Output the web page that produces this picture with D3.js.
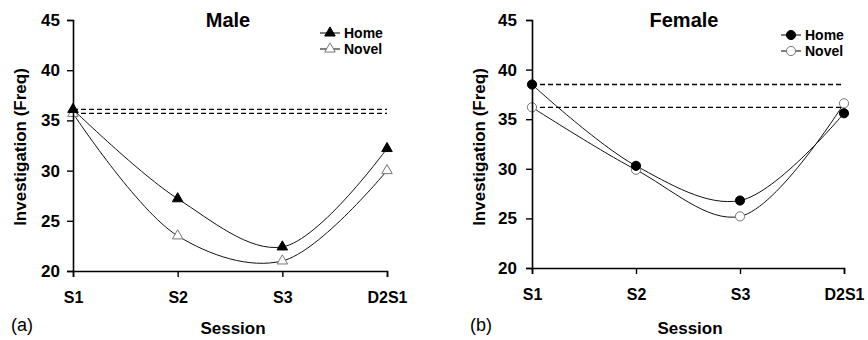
<!DOCTYPE html>
<html>
<head>
<meta charset="utf-8">
<script src="https://cdn.jsdelivr.net/npm/d3@7"></script>
<style>
  body { margin: 0; background: #fff; }
  svg { display: block; font-family: "Liberation Sans", Arial, sans-serif; }
</style>
</head>
<body>
<div id="chart"></div>
<script>
const width = 868;
const height = 340;

// data
const sessions = ['S1', 'S2', 'S3', 'D2S1'];
const yTicks = [20, 25, 30, 35, 40, 45];

const maleHome = [36.1, 27.2, 22.4, 32.2];
const maleNovel = [35.7, 23.5, 21.0, 30.0];
const femaleHome = [38.5, 30.3, 26.8, 35.6];
const femaleNovel = [36.2, 29.9, 25.2, 36.6];

const svg = d3.select('#chart')
    .append('svg')
    .attr('width', width)
    .attr('height', height);

// one panel
function drawPanel(p) {
    const xScale = d3.scalePoint().domain(sessions).range([p.x0, p.x1]);
    const yScale = d3.scaleLinear().domain([20, 45]).range([p.yBottom, p.yTop]);

    const g = svg.append('g');

    // dashed baseline references from S1
    [p.home[0], p.novel[0]].forEach((v) => {
        g.append('line')
            .attr('x1', p.x0).attr('x2', p.x1)
            .attr('y1', yScale(v)).attr('y2', yScale(v))
            .attr('stroke', '#000')
            .attr('stroke-width', 1.3)
            .attr('stroke-dasharray', '5,3');
    });

    const line = d3.line()
        .x((d, i) => xScale(sessions[i]))
        .y((d) => yScale(d))
        .curve(d3.curveCatmullRom.alpha(0.5));

    [p.home, p.novel].forEach((vals) => {
        g.append('path')
            .attr('d', line(vals))
            .attr('fill', 'none')
            .attr('stroke', '#111')
            .attr('stroke-width', 1);
    });

    const symType = p.shape === 'triangle' ? d3.symbolTriangle : d3.symbolCircle;
    const symSize = p.shape === 'triangle' ? 48 : 66;
    const sym = d3.symbol().type(symType).size(symSize);

    function marker(sel, filled) {
        sel.attr('d', sym)
            .attr('fill', filled ? '#000' : '#fff')
            .attr('stroke', filled ? '#000' : '#777')
            .attr('stroke-width', 1);
    }

    g.selectAll('.novel-pt')
        .data(p.novel)
        .enter()
        .append('path')
        .attr('class', 'novel-pt')
        .attr('transform', (d, i) => `translate(${xScale(sessions[i])},${yScale(d)})`)
        .call(marker, false);

    g.selectAll('.home-pt')
        .data(p.home)
        .enter()
        .append('path')
        .attr('class', 'home-pt')
        .attr('transform', (d, i) => `translate(${xScale(sessions[i])},${yScale(d)})`)
        .call(marker, true);

    // axes
    const yAxis = d3.axisLeft(yScale).tickValues(yTicks).tickSize(6).tickPadding(p.yPad);
    const xAxis = d3.axisBottom(xScale).tickSize(6).tickPadding(15);

    const ya = g.append('g')
        .attr('transform', `translate(${p.x0},0)`)
        .call(yAxis);
    const xa = g.append('g')
        .attr('transform', `translate(0,${p.yBottom})`)
        .call(xAxis);

    [ya, xa].forEach((a) => {
        a.select('.domain').attr('stroke', '#000').attr('stroke-width', 1.6);
        a.selectAll('.tick line').attr('stroke', '#000').attr('stroke-width', 1.4);
        a.selectAll('.tick text')
            .attr('fill', '#000')
            .style('font-family', '"Liberation Sans", Arial, sans-serif')
            .style('font-weight', 'bold');
    });
    ya.selectAll('.tick text').style('font-size', '17px');
    xa.selectAll('.tick text').style('font-size', '16px');

    // titles
    g.append('text')
        .attr('x', p.titleX).attr('y', 27)
        .attr('text-anchor', 'middle')
        .style('font-size', '20px').style('font-weight', 'bold')
        .text(p.title);

    g.append('text')
        .attr('transform', `translate(${p.yLabelX},147) rotate(-90)`)
        .attr('text-anchor', 'middle')
        .attr('dy', '0.35em')
        .style('font-size', '17px').style('font-weight', 'bold')
        .text('Investigation (Freq)');

    g.append('text')
        .attr('x', p.sessionX).attr('y', 334)
        .attr('text-anchor', 'middle')
        .style('font-size', '17px').style('font-weight', 'bold')
        .text('Session');

    g.append('text')
        .attr('x', p.tagX).attr('y', 331)
        .style('font-size', '18px')
        .text(p.tag);

    // legend
    const legend = g.append('g').attr('transform', `translate(${p.legX},${p.legY})`);
    [['Home', true], ['Novel', false]].forEach(([name, filled], i) => {
        const row = legend.append('g').attr('transform', `translate(0,${i * 16})`);
        row.append('line')
            .attr('x1', 0).attr('x2', 20)
            .attr('stroke', '#000').attr('stroke-width', 1);
        row.append('path')
            .attr('transform', 'translate(10,0)')
            .call(marker, filled);
        row.append('text')
            .attr('x', 24).attr('dy', '0.36em')
            .style('font-size', '14px').style('font-weight', 'bold')
            .text(name);
    });
}

drawPanel({
    title: 'Male', tag: '(a)', shape: 'triangle',
    home: maleHome, novel: maleNovel,
    x0: 73, x1: 387, yTop: 20, yBottom: 271, yPad: 7,
    titleX: 228, yLabelX: 20, sessionX: 233, tagX: 11,
    legX: 320, legY: 33
});

drawPanel({
    title: 'Female', tag: '(b)', shape: 'circle',
    home: femaleHome, novel: femaleNovel,
    x0: 532, x1: 844, yTop: 20, yBottom: 268, yPad: 9,
    titleX: 684, yLabelX: 479, sessionX: 690, tagX: 470,
    legX: 781, legY: 35
});
</script>
</body>
</html>
